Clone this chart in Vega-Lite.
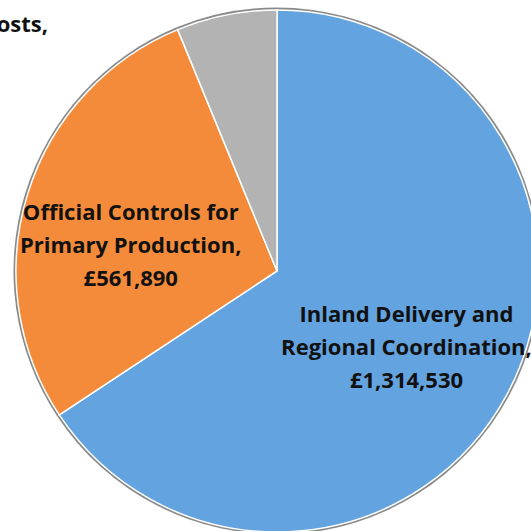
{
  "$schema": "https://vega.github.io/schema/vega-lite/v6.json",
  "width": 554,
  "height": 542,
  "padding": 0,
  "autosize": {"type": "none"},
  "background": "white",
  "config": {"view": {"stroke": null}},
  "data": {
    "values": [
      {"idx": 1, "category": "Inland Delivery and Regional Coordination", "value": 1314530, "label": "Inland Delivery and\nRegional Coordination,\n£1,314,530"},
      {"idx": 2, "category": "Official Controls for Primary Production", "value": 561890, "label": "Official Controls for\nPrimary Production,\n£561,890"},
      {"idx": 3, "category": "Management Costs", "value": 124330, "label": "Management Costs,\n£124,330"}
    ]
  },
  "encoding": {
    "theta": {"field": "value", "type": "quantitative", "stack": true},
    "order": {"field": "idx", "type": "quantitative"}
  },
  "layer": [
    {
      "mark": {"type": "arc", "radius": 263.5, "color": "#8a8a8a"}
    },
    {
      "mark": {"type": "arc", "radius": 261, "stroke": "white", "strokeWidth": 1.5},
      "encoding": {
        "color": {
          "field": "category",
          "type": "nominal",
          "scale": {
            "domain": ["Inland Delivery and Regional Coordination", "Official Controls for Primary Production", "Management Costs"],
            "range": ["#63a3df", "#f48b3a", "#b3b3b3"]
          },
          "legend": null
        }
      }
    },
    {
      "mark": {"type": "text", "radius": 147, "dy": -26, "font": "Open Sans", "fontWeight": "bold", "fontSize": 22, "lineHeight": 33, "lineBreak": "\n", "align": "center", "baseline": "middle", "color": "#111111"},
      "encoding": {"text": {"condition": {"test": "datum.idx == 1", "field": "label"}, "value": ""}}
    },
    {
      "mark": {"type": "text", "radius": 153, "dy": -13, "font": "Open Sans", "fontWeight": "bold", "fontSize": 22, "lineHeight": 33, "lineBreak": "\n", "align": "center", "baseline": "middle", "color": "#111111"},
      "encoding": {"text": {"condition": {"test": "datum.idx == 2", "field": "label"}, "value": ""}}
    },
    {
      "mark": {"type": "text", "radius": 260, "dx": -287, "dy": 9, "font": "Open Sans", "fontWeight": "bold", "fontSize": 22, "lineHeight": 33, "lineBreak": "\n", "align": "center", "baseline": "middle", "color": "#111111"},
      "encoding": {"text": {"condition": {"test": "datum.idx == 3", "field": "label"}, "value": ""}}
    }
  ]
}
